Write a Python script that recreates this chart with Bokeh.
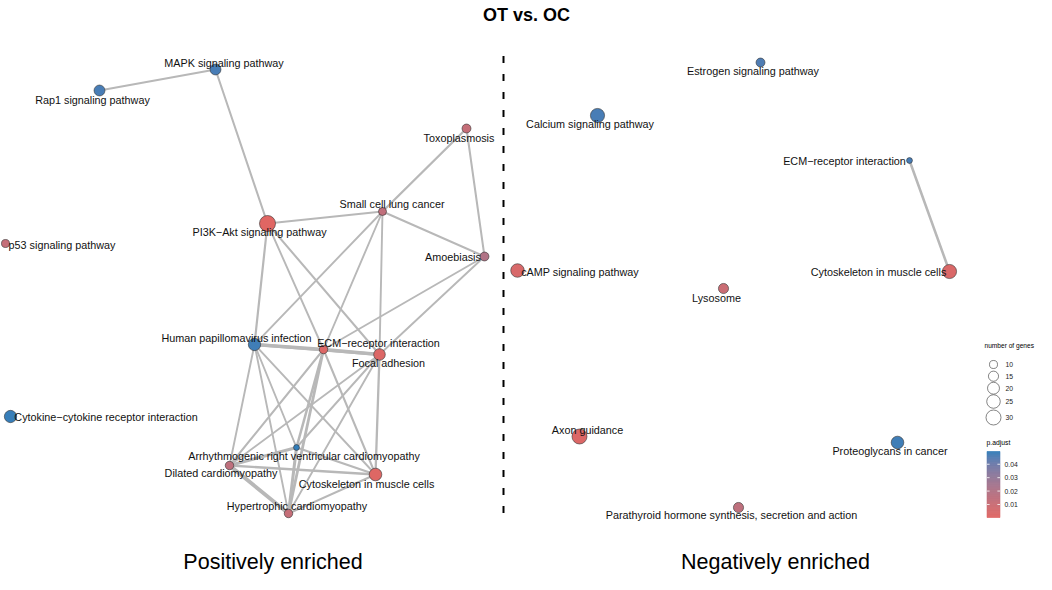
import numpy as np
from bokeh.plotting import figure
from bokeh.models import Range1d, ColumnDataSource
from bokeh.core.properties import value
from bokeh.embed import file_html
from bokeh.resources import INLINE

# ---------------- data ----------------
title_text = "OT vs. OC"
panel_titles = ["Positively enriched", "Negatively enriched"]

# positively enriched network (layout coordinates)
pos_terms = ["MAPK signaling pathway", "Rap1 signaling pathway", "Toxoplasmosis",
             "Small cell lung cancer", "PI3K\u2212Akt signaling pathway", "p53 signaling pathway",
             "Amoebiasis", "Human papillomavirus infection", "ECM\u2212receptor interaction",
             "Focal adhesion", "Cytokine\u2212cytokine receptor interaction",
             "Arrhythmogenic right ventricular cardiomyopathy", "Dilated cardiomyopathy",
             "Cytoskeleton in muscle cells", "Hypertrophic cardiomyopathy"]
pos_x = [215, 99, 466, 382, 267, 5, 484, 254, 323, 379, 10, 296, 229, 375, 288]
pos_y = [69, 90, 128, 211, 223, 243, 256, 344, 349, 354, 416, 447, 465, 474, 513]
pos_genes = [17, 17, 12, 10, 34, 10, 12, 21, 11, 19, 21, 6, 11, 22, 11]
pos_padj = [0.047, 0.047, 0.012, 0.014, 0.0003, 0.012, 0.020, 0.048, 0.002, 0.002,
            0.049, 0.0495, 0.015, 0.001, 0.012]
pos_edges = [
    (0, 1, 0.25), (0, 4, 0.25), (4, 3, 0.22), (4, 7, 0.28), (4, 8, 0.22), (4, 9, 0.25),
    (3, 2, 0.30), (3, 6, 0.25), (2, 6, 0.25), (3, 7, 0.22), (3, 8, 0.22), (3, 9, 0.22),
    (6, 8, 0.22), (6, 9, 0.22),
    (7, 8, 0.55), (7, 9, 0.45), (7, 11, 0.22), (7, 12, 0.22), (7, 13, 0.22), (7, 14, 0.22),
    (8, 9, 0.55), (8, 11, 0.35), (8, 12, 0.25), (8, 13, 0.25), (8, 14, 0.40),
    (9, 11, 0.22), (9, 12, 0.22), (9, 13, 0.30), (9, 14, 0.22),
    (11, 12, 0.45), (11, 13, 0.30), (11, 14, 0.45),
    (12, 13, 0.30), (12, 14, 0.60), (13, 14, 0.25),
]

# negatively enriched network
neg_terms = ["Estrogen signaling pathway", "Calcium signaling pathway", "ECM\u2212receptor interaction",
             "cAMP signaling pathway", "Cytoskeleton in muscle cells", "Lysosome", "Axon guidance",
             "Proteoglycans in cancer", "Parathyroid hormone synthesis, secretion and action"]
neg_x = [760, 597, 909, 517, 949, 723, 579, 897, 738]
neg_y = [62, 115, 160, 270, 271, 288, 436, 442, 507]
neg_genes = [12, 27, 6, 25, 27, 15, 30, 22, 15]
neg_padj = [0.046, 0.047, 0.047, 0.004, 0.003, 0.010, 0.002, 0.048, 0.015]
neg_edges = [(2, 4, 0.35)]

size_breaks = [10, 15, 20, 25, 30]
padj_breaks = [0.01, 0.02, 0.03, 0.04]
padj_labels = ["0.01", "0.02", "0.03", "0.04"]

# ---------------- styling ----------------
pos_label_off = [(8.5, -7), (-7, 9), (-7.5, 9), (9.5, -8), (-8, 8), (56.5, 1), (-31.5, 0),
                 (-18, -7), (55, -7), (9, 8), (95.5, 0), (7.5, 8), (-8.5, 7), (-9, 9), (8.5, -8)]
neg_label_off = [(-7.5, 8), (-7.5, 8), (-65, 0), (62.5, 1), (-71, 0), (-7, 9), (8, -7),
                 (-7.5, 8), (-7, 7)]

LOW, HIGH = "#e06663", "#327eba"
FONT = "Liberation Sans"
LABEL_SIZE = "10.8px"
LEG_DX = -9  # legend shifted slightly left so that it fits inside the canvas

def _hex_to_rgb(h):
    h = h.lstrip('#')
    return np.array([int(h[i:i + 2], 16) for i in (0, 2, 4)]) / 255.0

M = np.array([[0.4124564, 0.3575761, 0.1804375],
              [0.2126729, 0.7151522, 0.0721750],
              [0.0193339, 0.1191920, 0.9503041]])
WP = np.array([0.95047, 1.0, 1.08883])

def _rgb_to_lab(rgb):
    lin = np.where(rgb <= 0.04045, rgb / 12.92, ((rgb + 0.055) / 1.055) ** 2.4)
    xyz = M @ lin / WP
    f = np.where(xyz > 0.008856, np.cbrt(xyz), 7.787 * xyz + 16 / 116)
    return np.array([116 * f[1] - 16, 500 * (f[0] - f[1]), 200 * (f[1] - f[2])])

def _lab_to_hex(lab):
    L, a, b = lab
    fy = (L + 16) / 116
    f = np.array([fy + a / 500, fy, fy - b / 200])
    xyz = np.where(f ** 3 > 0.008856, f ** 3, (f - 16 / 116) / 7.787) * WP
    lin = np.linalg.inv(M) @ xyz
    rgb = np.where(lin <= 0.0031308, 12.92 * lin, 1.055 * np.clip(lin, 0, None) ** (1 / 2.4) - 0.055)
    rgb = np.clip(rgb, 0, 1)
    return "#%02x%02x%02x" % tuple(int(round(c * 255)) for c in rgb)

LAB_LOW, LAB_HIGH = _rgb_to_lab(_hex_to_rgb(LOW)), _rgb_to_lab(_hex_to_rgb(HIGH))
all_p = pos_padj + neg_padj
PMIN, PMAX = min(all_p), max(all_p)

def pcolor(v):
    t = (v - PMIN) / (PMAX - PMIN)
    return _lab_to_hex(LAB_LOW + t * (LAB_HIGH - LAB_LOW))

def gsize(n):
    return 3.02 * np.sqrt(n) - 1.55

def ewidth(s):
    return 1.8 + 5.0 * (s - 0.2)

p = figure(width=1036, height=574, x_range=Range1d(0, 1036), y_range=Range1d(574, 0),
           output_backend="svg", toolbar_location=None, min_border=0,
           x_axis_location=None, y_axis_location=None)
p.grid.visible = False
p.outline_line_color = None
p.background_fill_color = "white"

EDGE_COL = "#b8b8b8"

def draw_network(terms, xs, ys, genes, padj, edges, offs):
    ex0 = [xs[a] for a, b, s in edges]
    ey0 = [ys[a] for a, b, s in edges]
    ex1 = [xs[b] for a, b, s in edges]
    ey1 = [ys[b] for a, b, s in edges]
    ew = [ewidth(s) for a, b, s in edges]
    src = ColumnDataSource(dict(x0=ex0, y0=ey0, x1=ex1, y1=ey1, w=ew))
    p.segment("x0", "y0", "x1", "y1", source=src, line_color=EDGE_COL, line_width="w",
              line_cap="round")
    nsrc = ColumnDataSource(dict(x=xs, y=ys, s=[gsize(g) for g in genes],
                                 c=[pcolor(v) for v in padj]))
    p.scatter("x", "y", size="s", fill_color="c", line_color="#333333", line_width=0.6,
              source=nsrc)
    lsrc = ColumnDataSource(dict(x=[x + o[0] for x, o in zip(xs, offs)],
                                 y=[y + o[1] for y, o in zip(ys, offs)], t=terms))
    p.text("x", "y", text="t", source=lsrc, text_font=value(FONT), text_font_size=LABEL_SIZE,
           text_align="center", text_baseline="middle", text_color="#111111")

draw_network(pos_terms, pos_x, pos_y, pos_genes, pos_padj, pos_edges, pos_label_off)
draw_network(neg_terms, neg_x, neg_y, neg_genes, neg_padj, neg_edges, neg_label_off)

# divider
p.segment(x0=[503], y0=[55.5], x1=[503], y1=[517], line_color="black", line_width=2,
          line_dash=value([7, 11]))

# titles
p.text(x=[526], y=[14], text=[title_text], text_font=value(FONT), text_font_size="18px",
       text_font_style="bold", text_align="center", text_baseline="middle", text_color="black")
p.text(x=[272.5, 775], y=[561, 561], text=panel_titles, text_font=value(FONT),
       text_font_size="21.5px", text_align="center", text_baseline="middle", text_color="black")

# size legend
p.text(x=[993 + LEG_DX], y=[345], text=["number of genes"], text_font=value(FONT),
       text_font_size="6.6px", text_align="left", text_baseline="middle", text_color="black")
leg_y = [364, 375.7, 387.7, 401, 417]
p.scatter(x=[1002 + LEG_DX] * len(size_breaks), y=leg_y, size=[gsize(g) for g in size_breaks],
          fill_color="white", line_color="#333333", line_width=0.6)
p.text(x=[1014 + LEG_DX] * len(size_breaks), y=leg_y, text=[str(b) for b in size_breaks],
       text_font=value(FONT), text_font_size="6.8px", text_align="left",
       text_baseline="middle", text_color="#222222")

# colour bar
p.text(x=[995 + LEG_DX], y=[442], text=["p.adjust"], text_font=value(FONT), text_font_size="6.8px",
       text_align="left", text_baseline="middle", text_color="black")
CB_TOP, CB_BOT, CB_L, CB_R = 451.0, 517.0, 995.5 + LEG_DX, 1008.5 + LEG_DX
nseg = 80
vals = np.linspace(PMIN, PMAX, nseg + 1)
ys_cb = CB_BOT - (vals - PMIN) / (PMAX - PMIN) * (CB_BOT - CB_TOP)
cb_cols = [pcolor((vals[i] + vals[i + 1]) / 2) for i in range(nseg)]
p.quad(left=[CB_L] * nseg, right=[CB_R] * nseg, top=list(ys_cb[1:]), bottom=list(ys_cb[:-1]),
       fill_color=cb_cols, line_color=cb_cols, line_width=0.6)
tick_y = [CB_BOT - (v - PMIN) / (PMAX - PMIN) * (CB_BOT - CB_TOP) for v in padj_breaks]
p.segment(x0=[CB_L] * 4, y0=tick_y, x1=[CB_L + 2.6] * 4, y1=tick_y, line_color="white",
          line_width=0.8)
p.segment(x0=[CB_R - 2.6] * 4, y0=tick_y, x1=[CB_R] * 4, y1=tick_y, line_color="white",
          line_width=0.8)
p.text(x=[1013 + LEG_DX] * 4, y=tick_y, text=padj_labels, text_font=value(FONT),
       text_font_size="6.8px", text_align="left", text_baseline="middle", text_color="#222222")

open("out.html", "w").write(file_html(p, INLINE))
